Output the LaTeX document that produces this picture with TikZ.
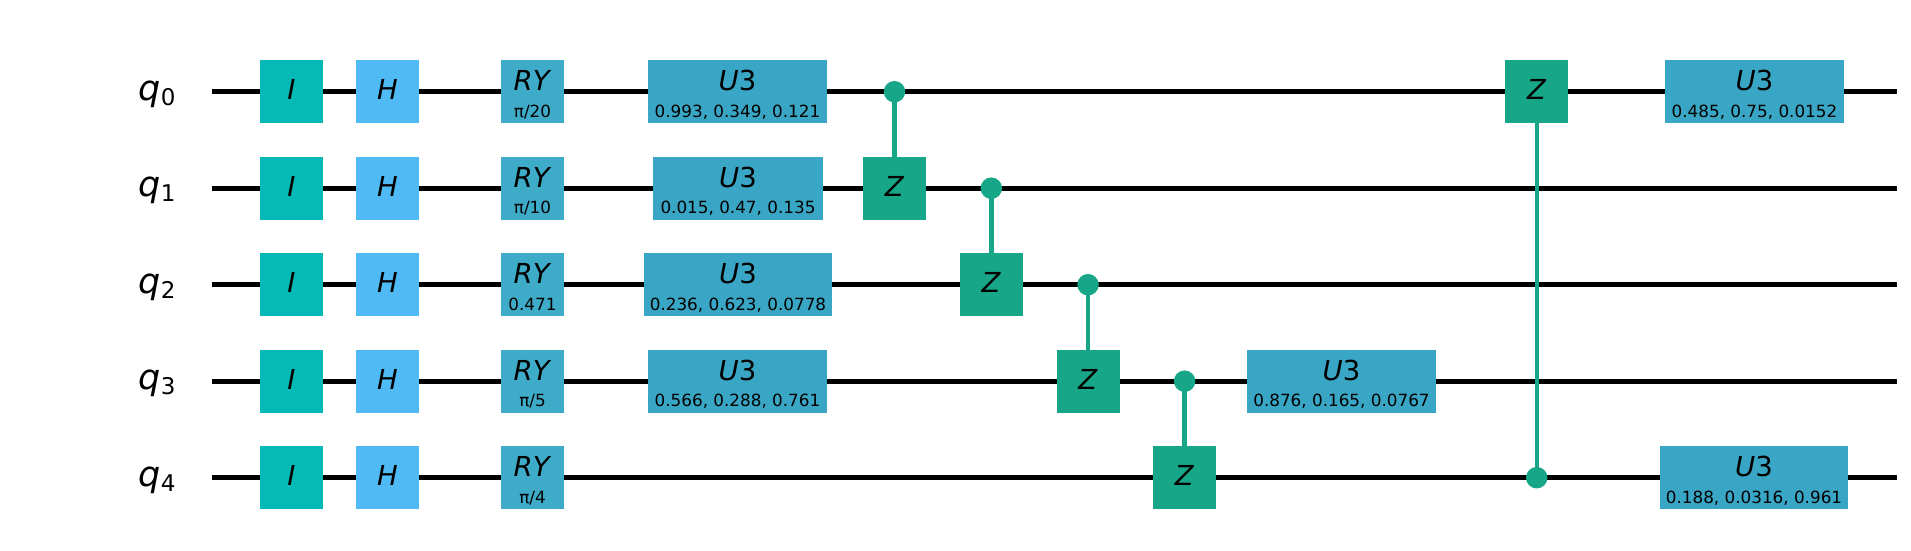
\documentclass[tikz,border=0pt]{standalone}
\usepackage{fontspec}
\setmainfont{DejaVu Sans}
\definecolor{cI}{HTML}{05BAB6}
\definecolor{cH}{HTML}{4FBAF4}
\definecolor{cRY}{HTML}{3EACC9}
\definecolor{cU}{HTML}{38A6C4}
\definecolor{cZ}{HTML}{18A689}
\newcommand{\bigf}{\fontsize{27.5}{28}\selectfont}
\newcommand{\smallf}{\fontsize{16.8}{17}\selectfont}
\newcommand{\qubit}[2]{% name index, y
  \coordinate (s#1) at (212,#2);
  \coordinate (e#1) at (1897,#2);
  \draw[wire] (s#1) -- (e#1);
  \node[txt,anchor=base] (lq#1) at (157,#2+8.6) {\fontsize{35}{35}\selectfont\textit{q}\raisebox{-5pt}{\fontsize{23}{23}\selectfont #1}};
}
% name, x centre, y wire, width, colour, label
\newcommand{\onegate}[6]{%
  \node[gatebox,minimum width=#4pt,fill=#5] (#1) at (#2,#3) {};
  \node[txt,anchor=base] (#1t) at (#2,#3+8) {\bigf #6};
}
% name, x centre, y wire, width, colour, label, parameters
\newcommand{\twogate}[7]{%
  \node[gatebox,minimum width=#4pt,fill=#5] (#1) at (#2,#3) {};
  \node[txt,anchor=base] (#1t) at (#2,#3-1.2) {\bigf #6};
  \node[txt,anchor=base] (#1p) at (#2,#3+25.6) {\smallf #7};
}
% controlled Z: name, control x, control y, target y
\newcommand{\cz}[4]{%
  \node[ctrl] (#1c) at (#2,#3) {};
  \draw[link] (#1c.center) -- (#2,#4);
  \onegate{#1}{#2}{#4}{63}{cZ}{\textit{Z}}
}
\tikzset{
  wire/.style={line width=4.6pt,black},
  txt/.style={inner sep=0pt,outer sep=0pt,text=black},
  gatebox/.style={rectangle,draw=none,inner sep=0pt,outer sep=0pt,minimum height=63pt},
  ctrl/.style={circle,fill=cZ,draw=none,inner sep=0pt,minimum size=21.5pt},
  link/.style={line width=4.4pt,cZ}
}
\begin{document}
\begin{tikzpicture}[x=1pt,y=-1pt]
\useasboundingbox (0,0) rectangle (1911,551);
\def\ya{91.7}\def\yb{188.2}\def\yc{284.7}\def\yd{381.2}\def\ye{477.7}
\qubit{0}{\ya}
\qubit{1}{\yb}
\qubit{2}{\yc}
\qubit{3}{\yd}
\qubit{4}{\ye}
\onegate{i0}{291.5}{\ya}{63}{cI}{\textit{I}}
\onegate{i1}{291.5}{\yb}{63}{cI}{\textit{I}}
\onegate{i2}{291.5}{\yc}{63}{cI}{\textit{I}}
\onegate{i3}{291.5}{\yd}{63}{cI}{\textit{I}}
\onegate{i4}{291.5}{\ye}{63}{cI}{\textit{I}}
\onegate{h0}{387.5}{\ya}{63}{cH}{\textit{H}}
\onegate{h1}{387.5}{\yb}{63}{cH}{\textit{H}}
\onegate{h2}{387.5}{\yc}{63}{cH}{\textit{H}}
\onegate{h3}{387.5}{\yd}{63}{cH}{\textit{H}}
\onegate{h4}{387.5}{\ye}{63}{cH}{\textit{H}}
\twogate{r0}{532.5}{\ya}{63}{cRY}{\textit{RY}}{π/20}
\twogate{r1}{532.5}{\yb}{63}{cRY}{\textit{RY}}{π/10}
\twogate{r2}{532.5}{\yc}{63}{cRY}{\textit{RY}}{0.471}
\twogate{r3}{532.5}{\yd}{63}{cRY}{\textit{RY}}{π/5}
\twogate{r4}{532.5}{\ye}{63}{cRY}{\textit{RY}}{π/4}
\twogate{u0}{737.5}{\ya}{179}{cU}{\textit{U}3}{0.993, 0.349, 0.121}
\twogate{u1}{738}{\yb}{170}{cU}{\textit{U}3}{0.015, 0.47, 0.135}
\twogate{u2}{738}{\yc}{188}{cU}{\textit{U}3}{0.236, 0.623, 0.0778}
\twogate{u3}{737.5}{\yd}{179}{cU}{\textit{U}3}{0.566, 0.288, 0.761}
\cz{za}{894.5}{\ya}{\yb}
\cz{zb}{991.3}{\yb}{\yc}
\cz{zc}{1088}{\yc}{\yd}
\cz{zd}{1184.6}{\yd}{\ye}
\twogate{v3}{1341.5}{\yd}{189}{cU}{\textit{U}3}{0.876, 0.165, 0.0767}
\cz{ze}{1536.7}{\ye}{\ya}
\twogate{v0}{1754.5}{\ya}{179}{cU}{\textit{U}3}{0.485, 0.75, 0.0152}
\twogate{v4}{1754}{\ye}{188}{cU}{\textit{U}3}{0.188, 0.0316, 0.961}
\end{tikzpicture}
\end{document}
